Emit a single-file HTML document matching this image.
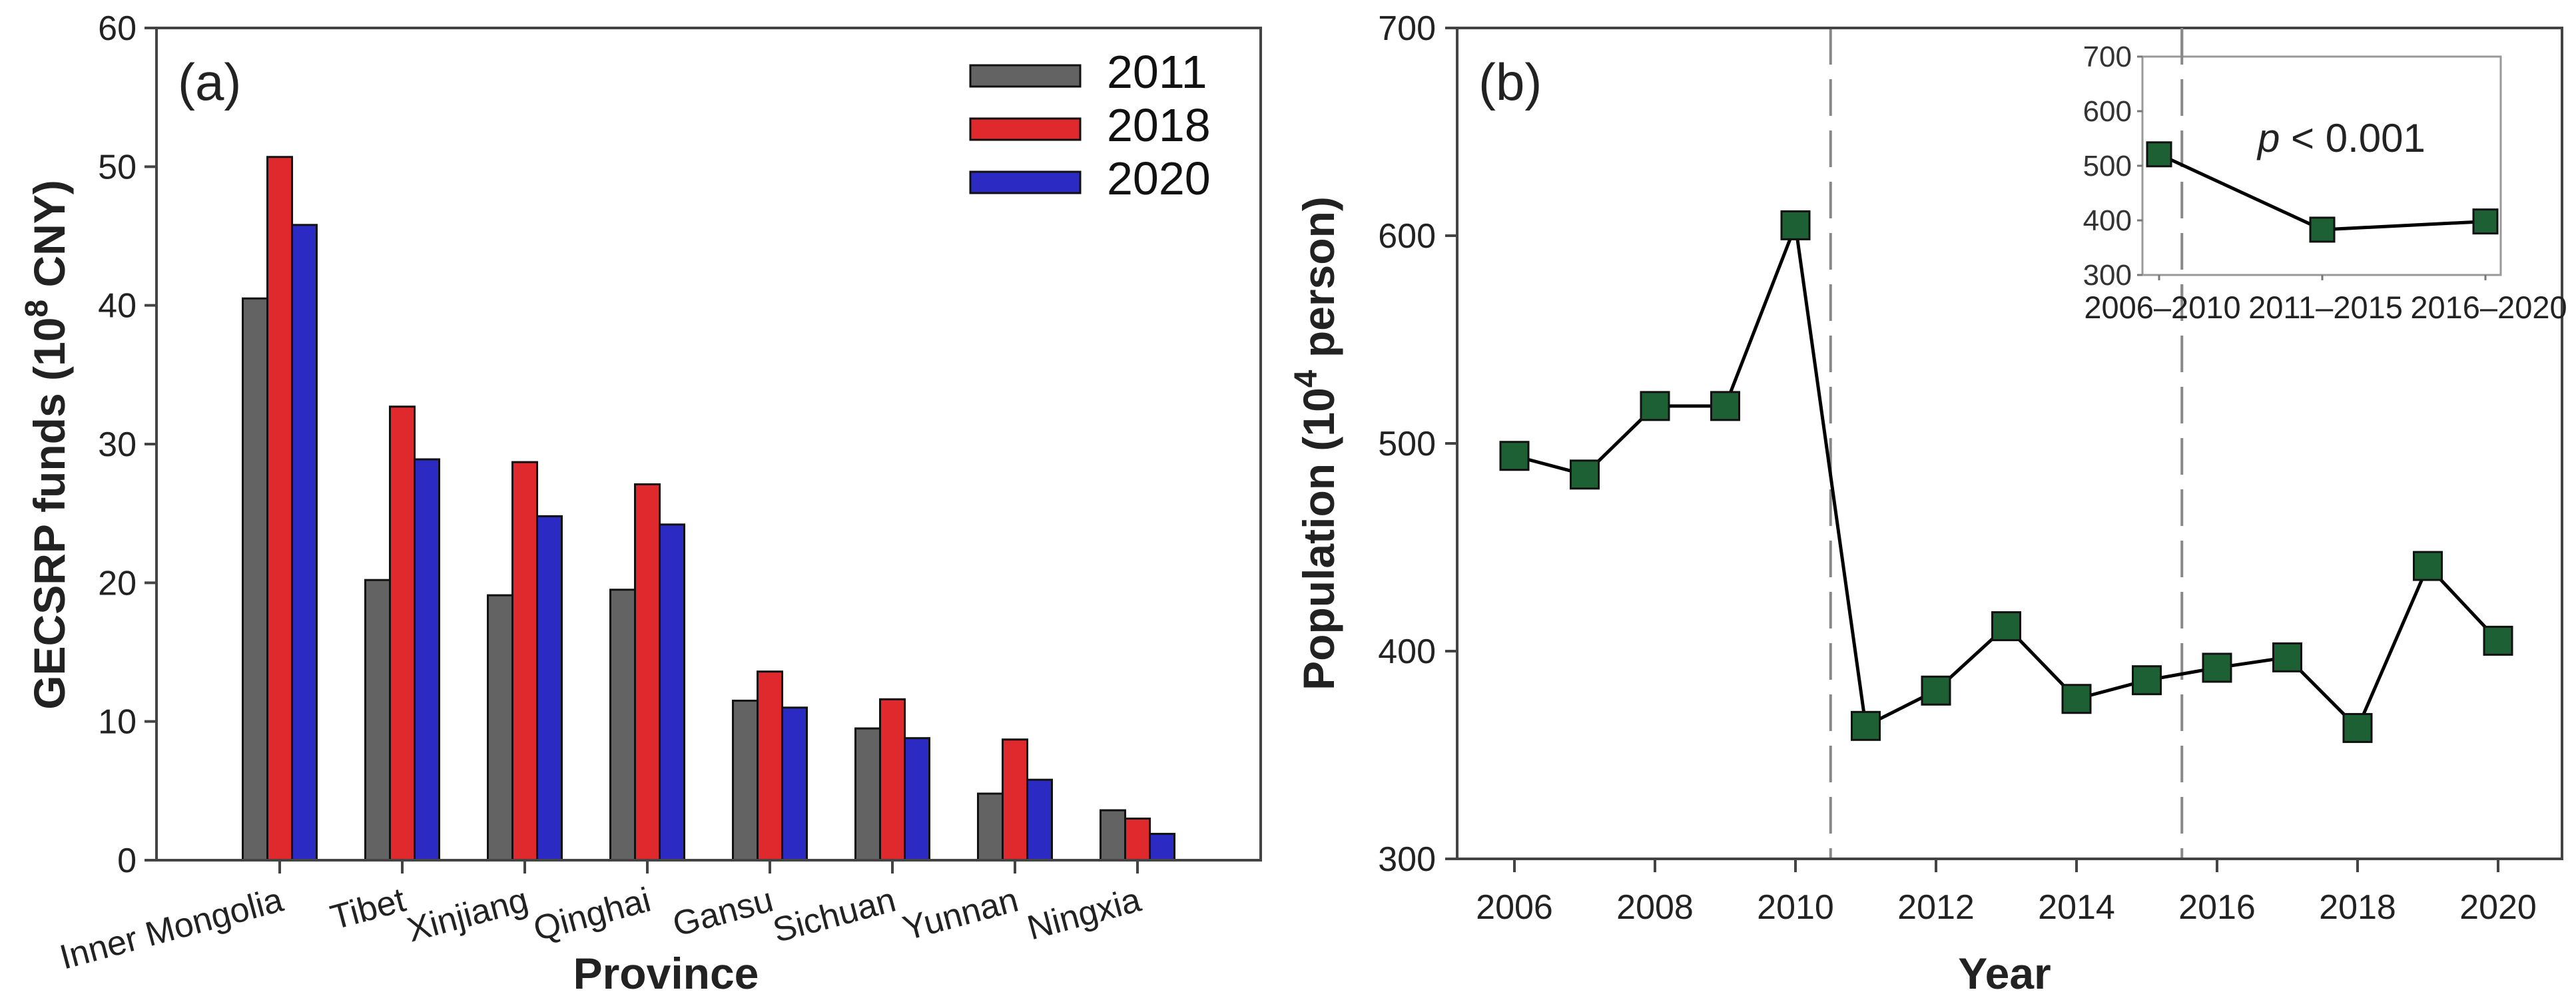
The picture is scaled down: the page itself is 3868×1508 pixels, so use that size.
<!DOCTYPE html>
<html><head><meta charset="utf-8"><style>
html,body{margin:0;padding:0;background:#fff;}
svg{display:block;font-family:"Liberation Sans",Arial,sans-serif;}
</style></head><body>
<svg id="fig" width="3868" height="1508" viewBox="0 0 3868 1508" xmlns="http://www.w3.org/2000/svg">
<g id="pa"></g>
<g id="pb"></g>
</svg>
<script>
const provinces = ["Inner Mongolia","Tibet","Xinjiang","Qinghai","Gansu","Sichuan","Yunnan","Ningxia"];
const funds2011 = [40.5,20.2,19.1,19.5,11.5,9.5,4.8,3.6];
const funds2018 = [50.7,32.7,28.7,27.1,13.6,11.6,8.7,3.0];
const funds2020 = [45.8,28.9,24.8,24.2,11.0,8.8,5.8,1.9];
const seriesNames = ["2011","2018","2020"];
const fundTicks = [0,10,20,30,40,50,60];
const years = [2006,2007,2008,2009,2010,2011,2012,2013,2014,2015,2016,2017,2018,2019,2020];
const population = [494,485,518,518,605,364,381,412,377,386,392,397,363,441,405];
const yearTicks = [2006,2008,2010,2012,2014,2016,2018,2020];
const popTicks = [300,400,500,600,700];
const periods = ["2006–2010","2011–2015","2016–2020"];
const periodPop = [521,383,398];
const insetTicks = [300,400,500,600,700];
const breaks = [2010.5,2015.5];

const NS="http://www.w3.org/2000/svg";
function mk(parent,tag,attrs,text){const e=document.createElementNS(NS,tag);for(const k in attrs)e.setAttribute(k,attrs[k]);if(text!==undefined)e.textContent=text;parent.appendChild(e);return e;}

// ---------- Panel A ----------
const pa=document.getElementById('pa');
const aL=235,aR=1893,aT=42,aB=1292;
const ay=v=>aB-(v-0)/(60-0)*(aB-aT);
const ax=i=>420+i*184;
const colors=["#636363","#e0292c","#2b2bc4"];
const seriesData=[funds2011,funds2018,funds2020];
const bw=37;
seriesData.forEach((s,si)=>{
  s.forEach((v,i)=>{
    const x=ax(i)+(si-1.5)*bw;
    const r=mk(pa,'rect',{x:x,y:ay(v),width:bw,height:aB-ay(v),fill:colors[si],stroke:'#111','stroke-width':3});
    
    
  });
});
let e=mk(pa,'rect',{x:aL,y:aT,width:aR-aL,height:aB-aT,fill:'none',stroke:'#444','stroke-width':4});

fundTicks.forEach(t=>{
  mk(pa,'line',{x1:aL-18,x2:aL,y1:ay(t),y2:ay(t),stroke:'#444','stroke-width':4});
  const tx=mk(pa,'text',{x:aL-30,y:ay(t)+18,'text-anchor':'end','font-size':52,fill:'#222'},t);
  
});
provinces.forEach((p,i)=>{
  mk(pa,'line',{x1:ax(i),x2:ax(i),y1:aB,y2:aB+20,stroke:'#444','stroke-width':4});
  const tx=mk(pa,'text',{x:ax(i)+8,y:aB+75,'text-anchor':'end','font-size':52,fill:'#222',transform:`rotate(-15 ${ax(i)+8} ${aB+75})`},p);
  
});
e=mk(pa,'text',{x:267,y:150,'font-size':78,fill:'#222'},'(a)');

e=mk(pa,'text',{x:1000,y:1485,'text-anchor':'middle','font-size':66,'font-weight':'bold',fill:'#222'},'Province');

e=mk(pa,'text',{x:0,y:0,'text-anchor':'middle','font-size':66,'font-weight':'bold',fill:'#222',transform:'translate(97 668) rotate(-90)'});
e.innerHTML='GECSRP funds (10<tspan dy="-26" font-size="48">8</tspan><tspan dy="26"> CNY)</tspan>';

seriesNames.forEach((n,si)=>{
  const y=98+si*80;
  const r=mk(pa,'rect',{x:1457,y:y,width:165,height:32,fill:colors[si],stroke:'#111','stroke-width':3});
  
  const t=mk(pa,'text',{x:1662,y:y+34,'font-size':70,fill:'#111'},n);
  
});

// ---------- Panel B ----------
const pb=document.getElementById('pb');
const bL=2188,bR=3847,bT=42,bB=1290;
const bx=yr=>2274+(yr-2006)*(3751-2274)/14;
const by=v=>bB-(v-300)/(700-300)*(bB-bT);
breaks.forEach(b=>{
  const l=mk(pb,'line',{x1:bx(b),x2:bx(b),y1:bT,y2:bB,stroke:'#888','stroke-width':4,'stroke-dasharray':'55 22'});
  
});
e=mk(pb,'rect',{x:bL,y:bT,width:bR-bL,height:bB-bT,fill:'none',stroke:'#444','stroke-width':4});

popTicks.forEach(t=>{
  mk(pb,'line',{x1:bL-18,x2:bL,y1:by(t),y2:by(t),stroke:'#444','stroke-width':4});
  const tx=mk(pb,'text',{x:bL-32,y:by(t)+18,'text-anchor':'end','font-size':52,fill:'#222'},t);
  
});
yearTicks.forEach(t=>{
  mk(pb,'line',{x1:bx(t),x2:bx(t),y1:bB,y2:bB+20,stroke:'#444','stroke-width':4});
  const tx=mk(pb,'text',{x:bx(t),y:bB+90,'text-anchor':'middle','font-size':52,fill:'#222'},t);
  
});
let pts=years.map((y,i)=>bx(y)+','+by(population[i])).join(' ');
e=mk(pb,'polyline',{points:pts,fill:'none',stroke:'#000','stroke-width':5});

years.forEach((y,i)=>{
  const m=mk(pb,'rect',{x:bx(y)-21,y:by(population[i])-21,width:42,height:42,fill:'#1d6033',stroke:'#111','stroke-width':3});
  
});
e=mk(pb,'text',{x:2220,y:150,'font-size':78,fill:'#222'},'(b)');

e=mk(pb,'text',{x:3010,y:1485,'text-anchor':'middle','font-size':66,'font-weight':'bold',fill:'#222'},'Year');

e=mk(pb,'text',{x:0,y:0,'text-anchor':'middle','font-size':66,'font-weight':'bold',fill:'#222',transform:'translate(2003 666) rotate(-90)'});
e.innerHTML='Population (10<tspan dy="-26" font-size="48">4</tspan><tspan dy="26"> person)</tspan>';


// inset
const iL=3217,iR=3755,iT=85,iB=413;
const ix=i=>3242+i*245;
const iy=v=>iB-(v-300)/(700-300)*(iB-iT);
const inset=mk(pb,'g',{});

mk(inset,'rect',{x:iL,y:iT,width:iR-iL,height:iB-iT,fill:'#fff',stroke:'#999','stroke-width':3});
mk(inset,'line',{x1:bx(2015.5),x2:bx(2015.5),y1:bT,y2:iB+40,stroke:'#888','stroke-width':4,'stroke-dasharray':'55 22'});
insetTicks.forEach(t=>{
  mk(inset,'line',{x1:iL-8,x2:iL,y1:iy(t),y2:iy(t),stroke:'#777','stroke-width':3});
  const tx=mk(inset,'text',{x:iL-16,y:iy(t)+15,'text-anchor':'end','font-size':44,fill:'#333'},t);
  
});
periods.forEach((p,i)=>{
  mk(inset,'line',{x1:ix(i),x2:ix(i),y1:iB,y2:iB+8,stroke:'#777','stroke-width':3});
  const tx=mk(inset,'text',{x:ix(i)+5,y:iB+65,'text-anchor':'middle','font-size':47,fill:'#222'},p);
  
});
e=mk(inset,'polyline',{points:periods.map((p,i)=>ix(i)+','+iy(periodPop[i])).join(' '),fill:'none',stroke:'#000','stroke-width':5});

periods.forEach((p,i)=>{
  const m=mk(inset,'rect',{x:ix(i)-18,y:iy(periodPop[i])-18,width:36,height:36,fill:'#1d6033',stroke:'#111','stroke-width':3});
  
});
e=mk(inset,'text',{x:3390,y:228,'font-size':60,fill:'#222'});
e.innerHTML='<tspan font-style="italic">p</tspan> &lt; 0.001';

</script>
</body></html>
